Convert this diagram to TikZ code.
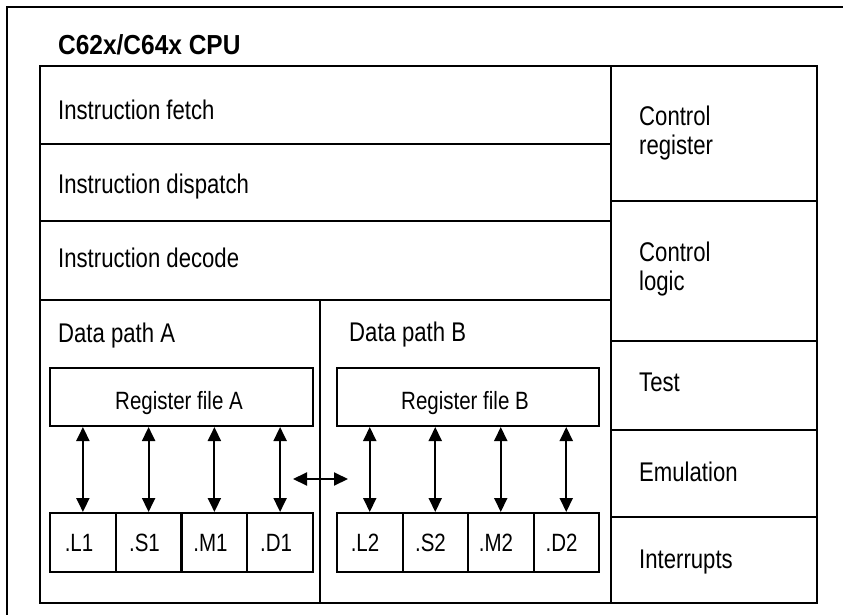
\documentclass[tikz,border=0pt]{standalone}
\usepackage{fontspec}
\setmainfont{Liberation Sans}[FakeStretch=0.82]
\newfontfamily\titlefont{Liberation Sans}[FakeStretch=0.89]
\usetikzlibrary{arrows.meta}
\begin{document}
\begin{tikzpicture}[x=1pt,y=-1pt,
  txt/.style={font=\fontsize{27}{30}\selectfont, inner sep=0pt, anchor=base west},
  mtxt/.style={font=\fontsize{27}{29.5}\selectfont, inner sep=0pt, anchor=north west, align=left},
  stxt/.style={font=\fontsize{25}{28}\selectfont, inner sep=0pt, anchor=base},
  box/.style={draw, line width=2pt, inner sep=0pt},
  div/.style={line width=1.8pt},
  biarrow/.style={{Triangle[width=13pt,length=14pt]}-{Triangle[width=13pt,length=14pt]}, line width=2pt}
]
\useasboundingbox (0,0) rectangle (843,615);
\fill[white] (0,0) rectangle (843,615);
% outer frame (cut off at right and bottom)
\draw[line width=2pt] (7,615) -- (7,7) -- (843,7);
\node[anchor=base west, inner sep=0pt, font=\titlefont\bfseries\fontsize{27.5}{30}\selectfont] (title) at (58,55) {C62x/C64x CPU};
% inner frame and dividers
\draw[line width=2.2pt] (40,66) rectangle (817,603);
\draw[div] (611,66) -- (611,603);
\draw[div] (40,144) -- (611,144);
\draw[div] (40,221) -- (611,221);
\draw[div] (40,300) -- (611,300);
\draw[line width=1.4pt] (320,300) -- (320,603);
\draw[div] (611,201) -- (817,201);
\draw[div] (611,341) -- (817,341);
\draw[div] (611,430) -- (817,430);
\draw[div] (611,517) -- (817,517);
% left texts
\node[txt] (fetch) at (58,119.5) {Instruction fetch};
\node[txt] (dispatch) at (58,193.5) {Instruction dispatch};
\node[txt] (decode) at (58,267.5) {Instruction decode};
\node[txt] (dpa) at (58,342.5) {Data path A};
\node[txt] (dpb) at (349,341.5) {Data path B};
% right texts
\node[mtxt] (ctrlreg) at (639,105.5) {Control\\register};
\node[mtxt] (ctrllogic) at (639,241.5) {Control\\logic};
\node[txt] (test) at (639,391.5) {Test};
\node[txt] (emu) at (639,481) {Emulation};
\node[txt] (intr) at (639,568) {Interrupts};
% register files
\node[box, minimum width=263pt, minimum height=58pt] (regA) at (181.5,397) {};
\node[stxt] (regAt) at (179,409) {Register file A};
\node[box, minimum width=262pt, minimum height=58pt] (regB) at (468,397) {};
\node[stxt] (regBt) at (465,409) {Register file B};
% functional units A
\node[box, minimum width=65.75pt, minimum height=59pt] (ua1) at (82.9,542.5) {};
\node[box, minimum width=65.75pt, minimum height=59pt] (ua2) at (148.6,542.5) {};
\node[box, minimum width=65.75pt, minimum height=59pt] (ua3) at (214.4,542.5) {};
\node[box, minimum width=65.75pt, minimum height=59pt] (ua4) at (280.1,542.5) {};
\node[stxt] (ua1t) at (79,551.7) {.L1};
\node[stxt] (ua2t) at (144.5,551.7) {.S1};
\node[stxt] (ua3t) at (210.5,551.7) {.M1};
\node[stxt] (ua4t) at (276,551.7) {.D1};
% functional units B
\node[box, minimum width=65.5pt, minimum height=59pt] (ub1) at (369.75,542.5) {};
\node[box, minimum width=65.5pt, minimum height=59pt] (ub2) at (435.25,542.5) {};
\node[box, minimum width=65.5pt, minimum height=59pt] (ub3) at (500.75,542.5) {};
\node[box, minimum width=65.5pt, minimum height=59pt] (ub4) at (566.25,542.5) {};
\node[stxt] (ub1t) at (365,551.7) {.L2};
\node[stxt] (ub2t) at (430.5,551.7) {.S2};
\node[stxt] (ub3t) at (496,551.7) {.M2};
\node[stxt] (ub4t) at (561.5,551.7) {.D2};
% arrows
\foreach \u in {ua1,ua2,ua3,ua4}{
  \draw[biarrow] (\u.north) -- (\u.north |- regA.south);
}
\foreach \u in {ub1,ub2,ub3,ub4}{
  \draw[biarrow] (\u.north) -- (\u.north |- regB.south);
}
\coordinate (ha) at (293,479);
\coordinate (hb) at (348,479);
\draw[biarrow] (ha) -- (hb);
\end{tikzpicture}
\end{document}
